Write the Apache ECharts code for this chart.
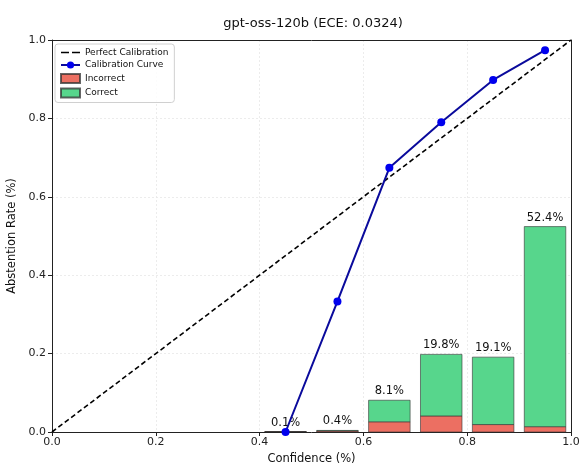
<!DOCTYPE html>
<html>
<head>
<meta charset="utf-8">
<script src="https://cdn.jsdelivr.net/npm/echarts@6/dist/echarts.min.js"></script>
<style>html,body{margin:0;padding:0;background:#fff;}#c{width:585px;height:465px;}</style>
</head>
<body>
<div id="c"></div>
<script>
const binCenters = [0.45, 0.55, 0.65, 0.75, 0.85, 0.95];
const accuracy = [0.0, 0.333, 0.674, 0.790, 0.898, 0.974];
const incorrect = [0.001, 0.0027, 0.026, 0.041, 0.019, 0.0136];
const correct = [0.0, 0.0013, 0.055, 0.157, 0.172, 0.5104];
const binLabels = ['0.1%', '0.4%', '8.1%', '19.8%', '19.1%', '52.4%'];
const perfectLine = [[0, 0], [1, 1]];
const binWidth = 0.08;

const font = 'DejaVu Sans';
const chart = echarts.init(document.getElementById('c'), null, {renderer: 'canvas'});
const axisCommon = {
  min: 0, max: 1, interval: 0.2,
  axisLine: {show: true, onZero: false, lineStyle: {color: '#222', width: 1}},
  axisTick: {show: true, length: 4, lineStyle: {color: '#222'}},
  axisLabel: {color: '#222', fontFamily: font, fontSize: 11, formatter: v => v.toFixed(1)},
  splitLine: {show: true, lineStyle: {color: '#e8e8e8', type: [2, 2], width: 0.8}},
  nameLocation: 'middle',
  nameTextStyle: {color: '#111', fontFamily: font, fontSize: 11.5}
};
const frameAxis = {
  min: 0, max: 1, interval: 0.2, type: 'value',
  axisLine: {show: true, onZero: false, lineStyle: {color: '#222', width: 1}},
  axisTick: {show: false}, axisLabel: {show: false}, splitLine: {show: false}
};

function barRenderer(fill, withLabel) {
  return function (params, api) {
    const x = api.value(0), lo = api.value(1), hi = api.value(2);
    const p0 = api.coord([x - binWidth / 2, lo]);
    const p1 = api.coord([x + binWidth / 2, hi]);
    const children = [{
      type: 'rect',
      shape: {x: p0[0], y: p1[1], width: p1[0] - p0[0], height: p0[1] - p1[1]},
      style: {fill: fill, stroke: 'rgba(50,50,50,0.75)', lineWidth: 0.8}
    }];
    if (withLabel) {
      children.push({
        type: 'text',
        x: (p0[0] + p1[0]) / 2, y: p1[1] - 3,
        style: {text: binLabels[params.dataIndex], textAlign: 'center', textVerticalAlign: 'bottom',
                font: '11.5px "DejaVu Sans"', fill: '#111'}
      });
    }
    return {type: 'group', children: children};
  };
}

chart.setOption({
  animation: false,
  backgroundColor: '#fff',
  title: {
    text: 'gpt-oss-120b (ECE: 0.0324)', left: 308, top: 12, textAlign: 'center',
    textStyle: {fontFamily: font, fontSize: 13, fontWeight: 'normal', color: '#111'}
  },
  grid: {left: 52, right: 14, top: 40, bottom: 33, containLabel: false, outerBoundsMode: 'none'},
  legend: {
    left: 55, top: 44, orient: 'vertical', itemGap: 3.5, itemWidth: 19, itemHeight: 9,
    padding: [4, 6, 4, 5], borderColor: '#d0d0d0', borderWidth: 1, borderRadius: 3,
    backgroundColor: 'rgba(255,255,255,0.85)',
    textStyle: {fontFamily: font, fontSize: 9, color: '#111'},
    data: [
      {name: 'Perfect Calibration', icon: 'path://M0,0h8v1.6h-8z M11,0h8v1.6h-8z'},
      {name: 'Calibration Curve'},
      {name: 'Incorrect', icon: 'rect'},
      {name: 'Correct', icon: 'rect'}
    ]
  },
  xAxis: [
    Object.assign({}, axisCommon, {type: 'value', name: 'Confidence (%)', nameGap: 19,
      axisLabel: Object.assign({}, axisCommon.axisLabel, {margin: 5})}),
    Object.assign({}, frameAxis, {position: 'top'})
  ],
  yAxis: [
    Object.assign({}, axisCommon, {type: 'value', name: 'Abstention Rate (%)', nameGap: 27,
      axisLabel: Object.assign({}, axisCommon.axisLabel, {margin: 6})}),
    Object.assign({}, frameAxis, {position: 'right'})
  ],
  series: [
    {
      name: 'Incorrect', type: 'custom', z: 1,
      data: binCenters.map((x, i) => [x, 0, incorrect[i]]),
      encode: {x: 0, y: [1, 2]},
      renderItem: barRenderer('#ec6f62', false),
      itemStyle: {color: '#ec6f62', borderColor: 'rgba(50,50,50,0.75)', borderWidth: 0.8}
    },
    {
      name: 'Correct', type: 'custom', z: 1,
      data: binCenters.map((x, i) => [x, incorrect[i], incorrect[i] + correct[i]]),
      encode: {x: 0, y: [1, 2]},
      renderItem: barRenderer('#57d68c', true),
      itemStyle: {color: '#57d68c', borderColor: 'rgba(50,50,50,0.75)', borderWidth: 0.8}
    },
    {
      name: 'Perfect Calibration', type: 'line', data: perfectLine, symbol: 'none', z: 3,
      lineStyle: {color: '#000', width: 1.6, type: [5, 3]}, itemStyle: {color: '#000'}
    },
    {
      name: 'Calibration Curve', type: 'line', z: 4,
      data: binCenters.map((x, i) => [x, accuracy[i]]),
      symbol: 'circle', symbolSize: 8,
      lineStyle: {color: '#0a0a9c', width: 2},
      itemStyle: {color: '#0000ee'}
    }
  ]
});
</script>
</body>
</html>
